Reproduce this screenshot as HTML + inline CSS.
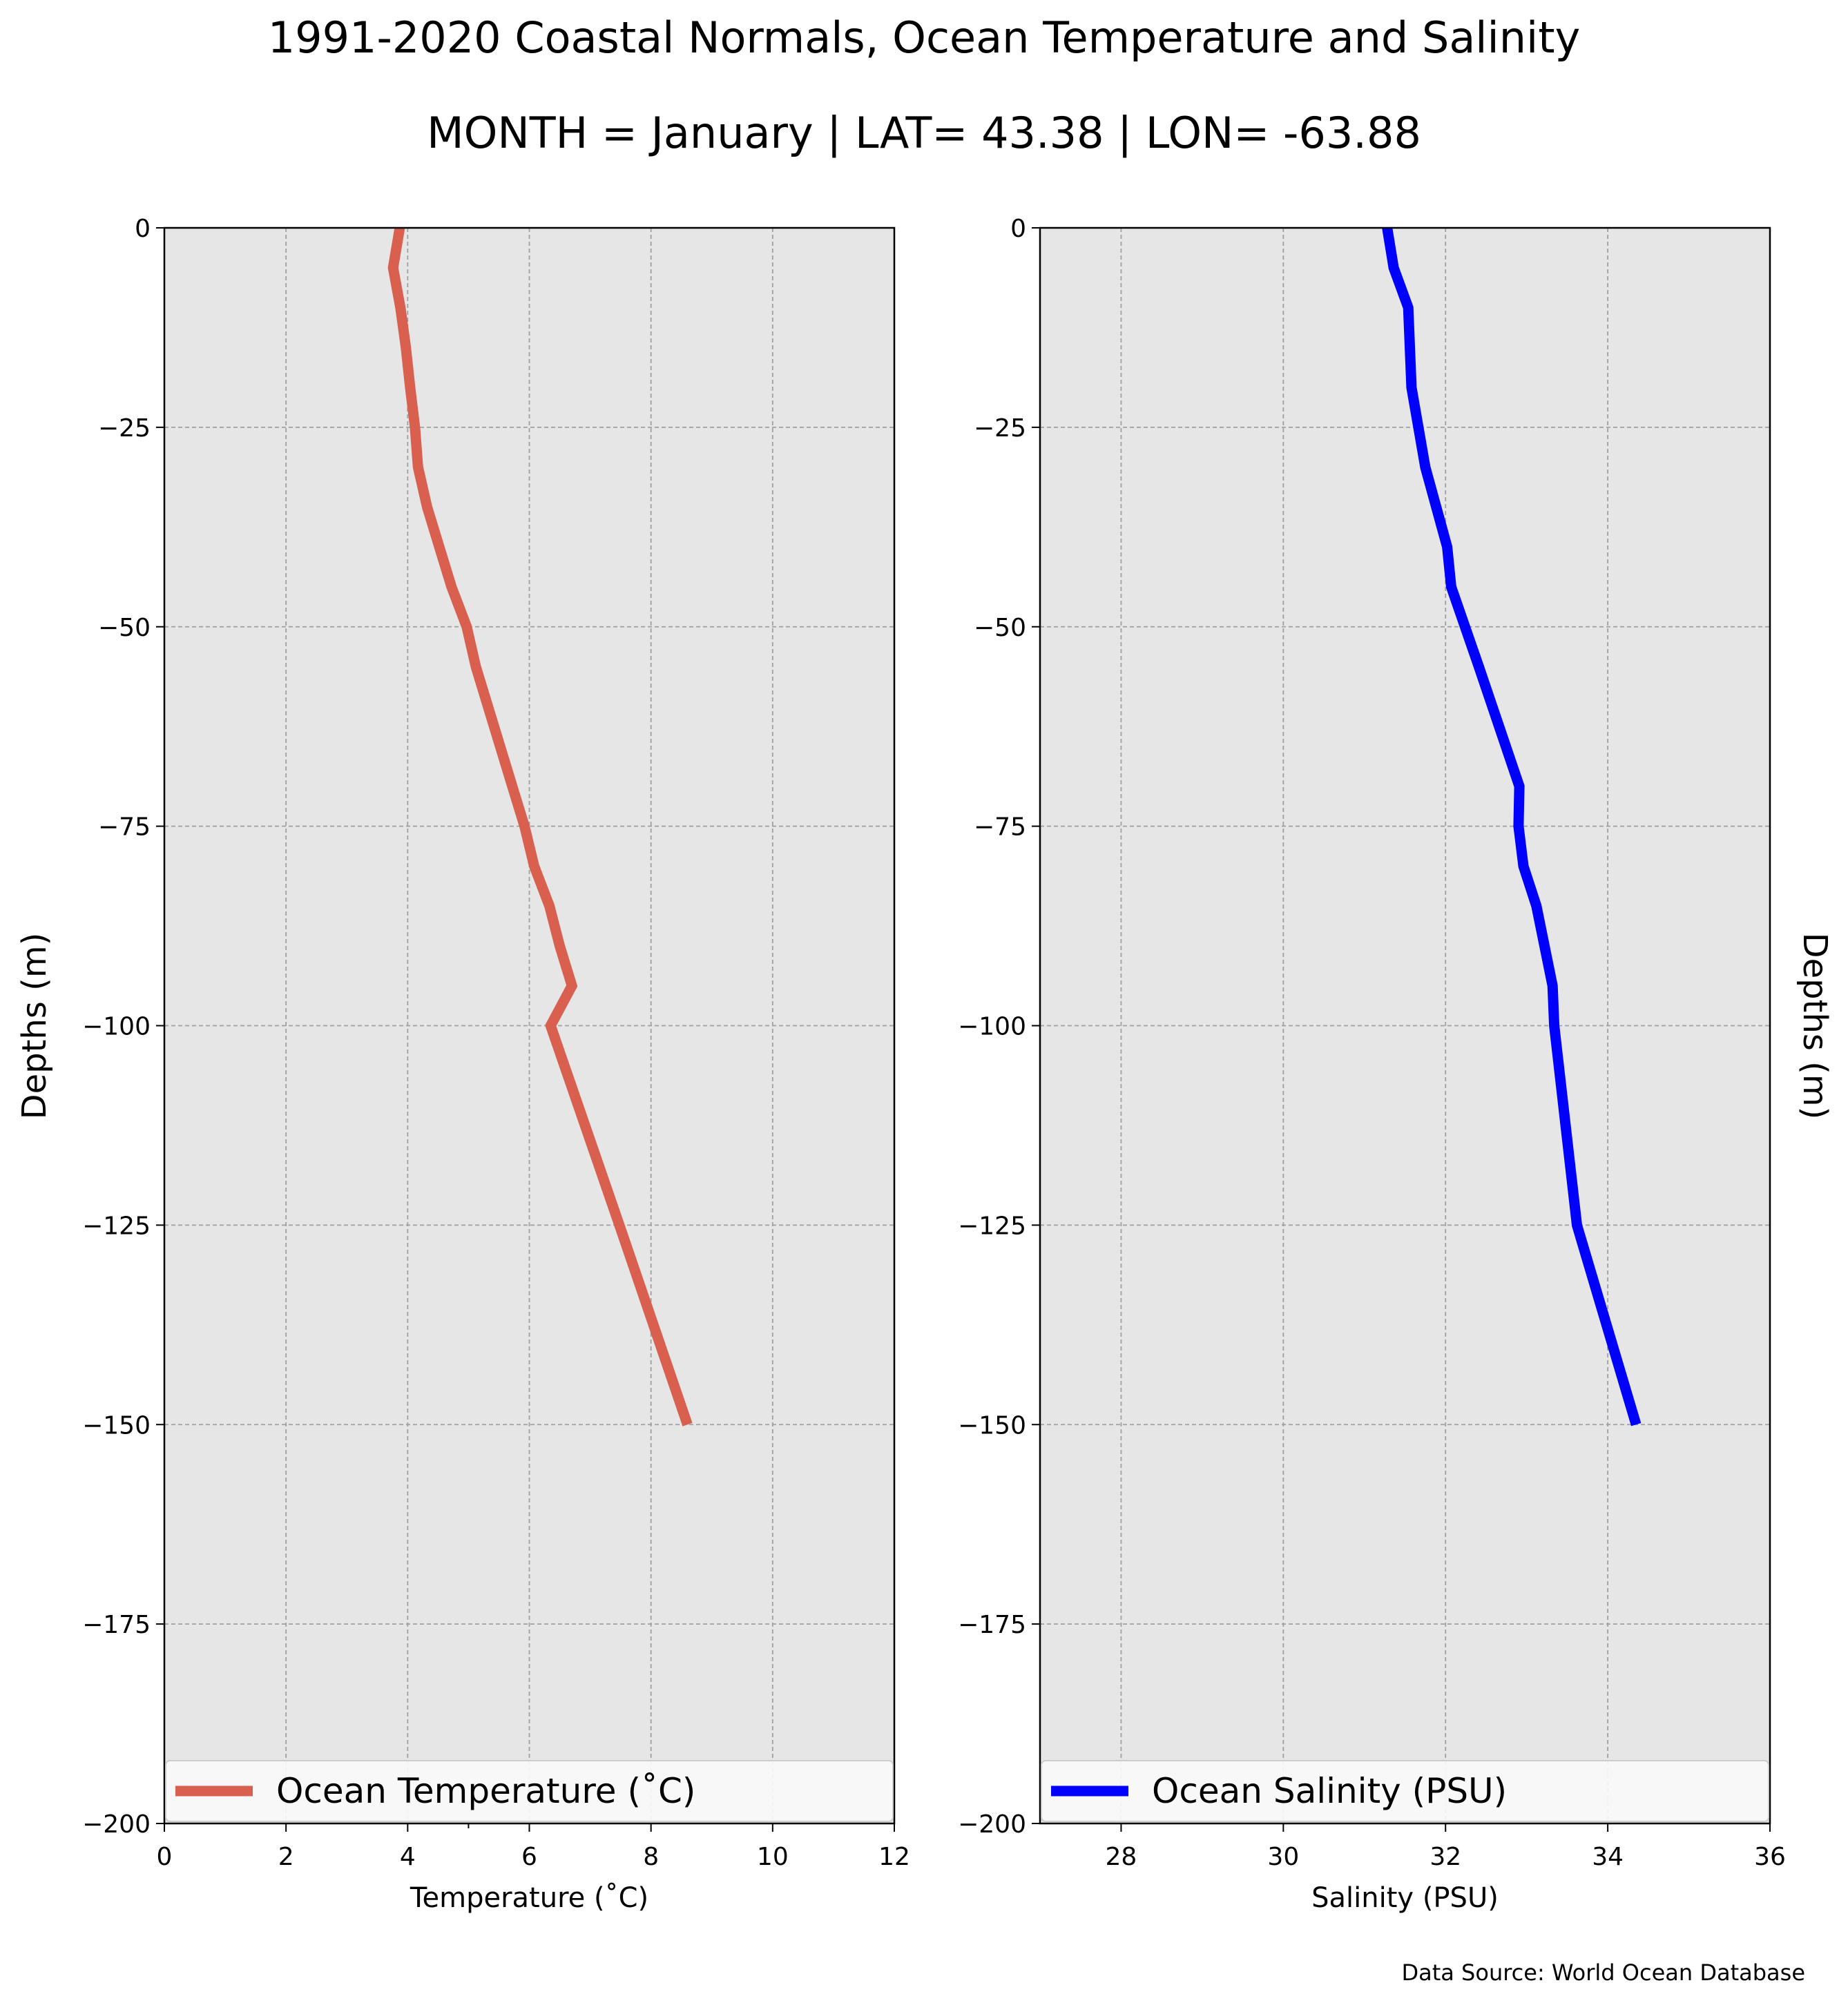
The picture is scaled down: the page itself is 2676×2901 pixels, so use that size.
<!DOCTYPE html>
<html><head><meta charset="utf-8"><style>
html,body{margin:0;padding:0;background:#fff}
svg{display:block;font-family:"DejaVu Sans","Liberation Sans",sans-serif}
</style></head><body>
<svg id="fig" width="2676" height="2901" viewBox="0 0 2676 2901" xmlns="http://www.w3.org/2000/svg">
<text x="1338" y="76" font-size="62" text-anchor="middle">1991-2020 Coastal Normals, Ocean Temperature and Salinity</text>
<text x="1338" y="214" font-size="62" text-anchor="middle">MONTH = January | LAT= 43.38 | LON= -63.88</text>
<g id="left"></g>
<g id="right"></g>
<text x="2614" y="2868" font-size="32" text-anchor="end">Data Source: World Ocean Database</text>
</svg>
<script>
const tempDepths=[0,-5,-10,-15,-20,-25,-30,-35,-40,-45,-50,-55,-60,-65,-70,-75,-80,-85,-90,-95,-100,-125,-150];
const tempValues=[3.87,3.76,3.88,3.97,4.04,4.12,4.17,4.32,4.52,4.72,4.97,5.12,5.32,5.52,5.72,5.92,6.08,6.33,6.5,6.7,6.35,7.48,8.6];
const salDepths=[0,-5,-10,-20,-30,-40,-45,-55,-70,-75,-80,-85,-95,-100,-125,-150];
const salValues=[31.28,31.36,31.54,31.58,31.75,32.02,32.07,32.41,32.91,32.9,32.96,33.12,33.32,33.34,33.62,34.35];
const yTicks=[0,-25,-50,-75,-100,-125,-150,-175,-200];
const tempTicks=[0,2,4,6,8,10,12];
const salTicks=[28,30,32,34,36];

const NS="http://www.w3.org/2000/svg";
const TOP=330,BOT=2641;
function mk(p,tag,a){const e=document.createElementNS(NS,tag);for(const k in a)e.setAttribute(k,a[k]);p.appendChild(e);return e;}
function fmt(v){return v<0?"\u2212"+Math.abs(v):String(v);}

function panel(g,L,R,xmin,xmax,xt,depths,vals,color,xlabel,legend,rightLabel){
  const sx=v=>L+(v-xmin)/(xmax-xmin)*(R-L);
  const sy=d=>TOP+(0-d)/200*(BOT-TOP);
  const bg=mk(g,'rect',{x:L,y:TOP,width:R-L,height:BOT-TOP,fill:'#e6e6e6'});
  
  
  xt.forEach(t=>{
    const x=sx(t);
    const gl=mk(g,'line',{x1:x,y1:TOP,x2:x,y2:BOT,stroke:'#a0a0a0','stroke-width':1.8,'stroke-dasharray':'6,4'});
    
    
    mk(g,'line',{x1:x,y1:BOT,x2:x,y2:BOT+12,stroke:'#000','stroke-width':2});
    const tl=mk(g,'text',{x:x,y:BOT+60,'font-size':36,'text-anchor':'middle'});
    tl.textContent=fmt(t);
    
    
  });
  yTicks.forEach(t=>{
    const y=sy(t);
    const gl=mk(g,'line',{x1:L,y1:y,x2:R,y2:y,stroke:'#a0a0a0','stroke-width':1.8,'stroke-dasharray':'6,4'});
    
    
    mk(g,'line',{x1:L-12,y1:y,x2:L,y2:y,stroke:'#000','stroke-width':2});
    const tl=mk(g,'text',{x:L-20,y:y+13,'font-size':36,'text-anchor':'end'});
    tl.textContent=fmt(t);
    
    
  });
  const pts=vals.map((v,i)=>sx(v).toFixed(1)+','+sy(depths[i]).toFixed(1)).join(' ');
  const ln=mk(g,'polyline',{points:pts,fill:'none',stroke:color,'stroke-width':15,'stroke-linejoin':'miter'});
  
  
  mk(g,'rect',{x:L,y:TOP,width:R-L,height:BOT-TOP,fill:'none',stroke:'#000','stroke-width':2.5});
  const lg=mk(g,'g',{});
  
  
  mk(lg,'rect',{x:L+2,y:2550,width:R-L-4,height:88,rx:6,fill:'#fafafa','fill-opacity':0.9,stroke:'#cccccc','stroke-width':2});
  mk(lg,'line',{x1:L+16,y1:2594,x2:L+128,y2:2594,stroke:color,'stroke-width':15});
  const lt=mk(lg,'text',{x:L+162,y:2611,'font-size':50});
  lt.textContent=legend;
  
  
  const xl=mk(g,'text',{x:(L+R)/2,y:2762,'font-size':40,'text-anchor':'middle'});
  xl.textContent=xlabel;
  
  
  const yl=rightLabel?mk(g,'text',{x:2612,y:1486,'font-size':48,'text-anchor':'middle',transform:'rotate(90 2612 1486)'})
                    :mk(g,'text',{x:66,y:1486,'font-size':48,'text-anchor':'middle',transform:'rotate(-90 66 1486)'});
  yl.textContent='Depths (m)';
  
  
  return sx;
}
const gL=document.getElementById('left'),gR=document.getElementById('right');
const sxL=panel(gL,238,1295,0,12,tempTicks,tempDepths,tempValues,'#d95f4e','Temperature (\u02daC)','Ocean Temperature (\u02daC)',false);
mk(gL,'line',{x1:sxL(5),y1:BOT,x2:sxL(5),y2:BOT+7,stroke:'#000','stroke-width':2});
panel(gR,1506,2563,27,36,salTicks,salDepths,salValues,'#0000ff','Salinity (PSU)','Ocean Salinity (PSU)',true);
</script>
</body></html>
